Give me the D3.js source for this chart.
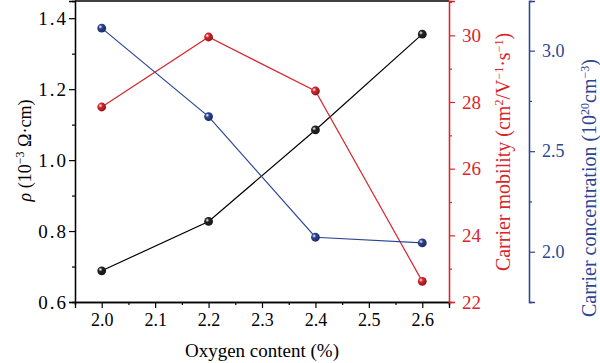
<!DOCTYPE html>
<html>
<head>
<meta charset="utf-8">
<script src="https://cdn.jsdelivr.net/npm/d3@7"></script>
<style>
  body { margin: 0; background: #fff; }
  text { font-family: "Liberation Serif", "DejaVu Serif", serif; }
</style>
</head>
<body>
<div id="chart"></div>
<script>
const oxygen = [2.0, 2.2, 2.4, 2.6];
const resistivity = [0.688, 0.827, 1.085, 1.355];
const mobility = [27.85, 29.95, 28.33, 22.62];
const concentration = [3.112, 2.672, 2.072, 2.044];

const xTicks = [2.0, 2.1, 2.2, 2.3, 2.4, 2.5, 2.6];
const rhoTicks = [0.6, 0.8, 1.0, 1.2, 1.4];
const muTicks = [22, 24, 26, 28, 30];
const nTicks = [2.0, 2.5, 3.0];

const red = "#d9252b", blue = "#2c4495", black = "#000";
const serif = "Liberation Serif, serif";

const W = 600, H = 363;
const plotL = 75, plotR = 449, plotT = 1, plotB = 302, blueX = 529;

const svg = d3.select("#chart").append("svg")
    .attr("width", W).attr("height", H);

const x = d3.scaleLinear().domain([1.95, 2.65]).range([plotL, plotR]);
const yRho = d3.scaleLinear().domain([0.6, 1.4485]).range([plotB, plotT]);
const yMu = d3.scaleLinear().domain([22, 31.03]).range([plotB, plotT]);
const yN = d3.scaleLinear().domain([1.75, 3.247]).range([plotB, plotT]);

// gradients for the ball-like markers
const defs = svg.append("defs");
function ball(id, c) {
    const g = defs.append("radialGradient").attr("id", id)
        .attr("cx", "35%").attr("cy", "35%").attr("r", "65%");
    g.append("stop").attr("offset", "0%").attr("stop-color", "#fff");
    g.append("stop").attr("offset", "35%").attr("stop-color", c);
    g.append("stop").attr("offset", "100%").attr("stop-color", d3.color(c).darker(1.2));
}
ball("gBlack", "#222");
ball("gRed", red);
ball("gBlue", blue);

function styleAxis(g, color, size, spacing) {
    g.attr("font-family", serif).attr("font-size", size || 18);
    g.select(".domain").attr("stroke", color).attr("stroke-width", 1.3);
    g.selectAll(".tick line").attr("stroke", color).attr("stroke-width", 1.2);
    g.selectAll(".tick text").attr("fill", color)
        .style("letter-spacing", (spacing || 0) + "px");
}

// top frame line
svg.append("line").attr("x1", plotL).attr("x2", plotR).attr("y1", plotT).attr("y2", plotT)
    .attr("stroke", black).attr("stroke-width", 1.5);

// x axis
const xMinor = d3.range(20, 27).map(d => d / 10 + 0.05).concat([1.95]);
svg.append("g").attr("transform", `translate(0,${plotB})`)
    .call(d3.axisBottom(x).tickValues(xMinor).tickSize(3).tickFormat(""))
    .call(g => styleAxis(g, black));
svg.append("g").attr("transform", `translate(0,${plotB})`)
    .call(d3.axisBottom(x).tickValues(xTicks).tickSize(6).tickPadding(5).tickFormat(d3.format(".1f")))
    .call(g => styleAxis(g, black));

// left axis
svg.append("g").attr("transform", `translate(${plotL},0)`)
    .call(d3.axisLeft(yRho).tickValues([0.7, 0.9, 1.1, 1.3]).tickSize(3).tickFormat(""))
    .call(g => styleAxis(g, black));
svg.append("g").attr("transform", `translate(${plotL},0)`)
    .call(d3.axisLeft(yRho).tickValues(rhoTicks).tickSize(6).tickPadding(1).tickFormat(d3.format(".1f")))
    .call(g => styleAxis(g, black, 19, 2));

// red right axis
svg.append("g").attr("transform", `translate(${plotR},0)`)
    .call(d3.axisRight(yMu).tickValues([23, 25, 27, 29, 31]).tickSize(3).tickFormat(""))
    .call(g => styleAxis(g, red));
svg.append("g").attr("transform", `translate(${plotR},0)`)
    .call(d3.axisRight(yMu).tickValues(muTicks).tickSize(6).tickPadding(7).tickFormat(d3.format("d")))
    .call(g => styleAxis(g, red, 19));

// blue offset axis
svg.append("g").attr("transform", `translate(${blueX},0)`)
    .call(d3.axisRight(yN).tickValues([2.25, 2.75]).tickSize(3).tickFormat(""))
    .call(g => styleAxis(g, blue));
svg.append("g").attr("transform", `translate(${blueX},0)`)
    .call(d3.axisRight(yN).tickValues(nTicks).tickSize(6).tickPadding(7).tickFormat(d3.format(".1f")))
    .call(g => styleAxis(g, blue));

// series
const series = [
    {vals: resistivity, y: yRho, color: black, grad: "gBlack"},
    {vals: mobility, y: yMu, color: red, grad: "gRed"},
    {vals: concentration, y: yN, color: blue, grad: "gBlue"}
];
series.forEach(s => {
    const pts = oxygen.map((o, i) => [o, s.vals[i]]);
    svg.append("path").datum(pts)
        .attr("fill", "none").attr("stroke", s.color).attr("stroke-width", 1.2)
        .attr("d", d3.line().x(d => x(d[0])).y(d => s.y(d[1])));
    svg.selectAll(null).data(pts).enter().append("circle")
        .attr("cx", d => x(d[0])).attr("cy", d => s.y(d[1]))
        .attr("r", 4.4).attr("fill", `url(#${s.grad})`);
});

// axis titles
svg.append("text").attr("x", (plotL + plotR) / 2).attr("y", 357)
    .attr("text-anchor", "middle").style("font-size", "19px").text("Oxygen content (%)");

// vertical title at natural width, centred on (cx, cy)
function vTitle(cx, cy, color, size, parts) {
    const t = svg.append("text").attr("fill", color).style("font-size", size + "px");
    parts.forEach(p => {
        const s = t.append("tspan").text(p[0]);
        if (p[1] === "sup") s.attr("dy", -7).style("font-size", "12px");
        if (p[1] === "after") s.attr("dy", 7);
        if (p[1] === "it") s.style("font-style", "italic");
    });
    const b = t.node().getBBox();
    t.attr("transform", `translate(${cx + size * 0.33},${cy}) rotate(-90) translate(${-(b.x + b.width / 2)},0)`);
    return t;
}

vTitle(25, 151, black, 18, [["ρ", "it"], [" (10"], ["−3", "sup"], [" Ω·cm)", "after"]]);
vTitle(503, 152, red, 20, [["Carrier mobility (cm"], ["2", "sup"], ["/V", "after"], ["−1", "sup"],
    ["·s", "after"], ["−1", "sup"], [")", "after"]]);
vTitle(589, 188, blue, 20, [["Carrier concentration (10"], ["20", "sup"], ["cm", "after"], ["−3", "sup"], [")", "after"]]);
</script>
</body>
</html>
